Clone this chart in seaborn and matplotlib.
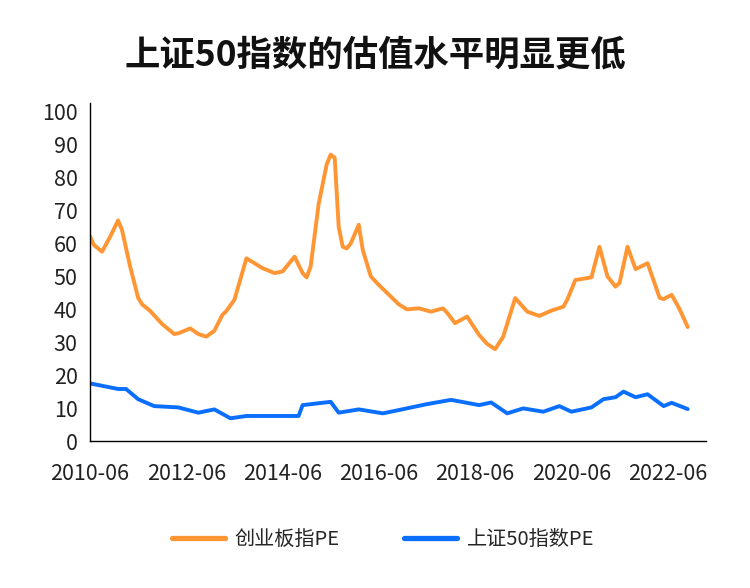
import pandas as pd
import seaborn as sns
import matplotlib.pyplot as plt

# values
cyb_dates = ['2010-06', '2010-07', '2010-09', '2010-11', '2011-01', '2011-02', '2011-04', '2011-06',
             '2011-07', '2011-09', '2011-12', '2012-03', '2012-04', '2012-07', '2012-09', '2012-11',
             '2013-01', '2013-03', '2013-04', '2013-06', '2013-09', '2013-11', '2014-01', '2014-04',
             '2014-06', '2014-09', '2014-11', '2014-12', '2015-01', '2015-03', '2015-05', '2015-06',
             '2015-07', '2015-08', '2015-09', '2015-10', '2015-11', '2016-01', '2016-02', '2016-04',
             '2016-06', '2016-11', '2017-01', '2017-04', '2017-07', '2017-10', '2017-11', '2018-01',
             '2018-04', '2018-07', '2018-09', '2018-11', '2019-01', '2019-04', '2019-07', '2019-10',
             '2020-01', '2020-04', '2020-05', '2020-07', '2020-11', '2021-01', '2021-03', '2021-05',
             '2021-06', '2021-08', '2021-10', '2022-01', '2022-04', '2022-05', '2022-07', '2022-09',
             '2022-11']
cyb_pe = [62.1, 59.5, 57.5, 62, 67, 64, 53, 43.5,
          41.5, 39.5, 35.5, 32.5, 32.7, 34.2, 32.5, 31.7,
          33.5, 38.3, 39.5, 42.9, 55.5, 54, 52.5, 51,
          51.5, 56, 51, 49.7, 53, 72, 84, 87,
          86, 65, 59, 58.5, 60, 65.7, 58, 50,
          47.4, 41.5, 40, 40.3, 39.3, 40.3, 39, 35.8,
          37.8, 32.2, 29.5, 27.9, 31.7, 43.4, 39.3, 38,
          39.6, 40.8, 43, 48.9, 49.7, 59, 50, 46.9,
          48, 59, 52.2, 54, 43.5, 43.1, 44.4, 40,
          34.6]

sz50_dates = ['2010-06', '2011-01', '2011-03', '2011-06', '2011-10', '2012-04', '2012-09', '2013-01',
              '2013-05', '2013-09', '2014-10', '2014-11', '2015-06', '2015-08', '2016-01', '2016-07',
              '2016-11', '2017-06', '2017-12', '2018-07', '2018-10', '2019-02', '2019-06', '2019-11',
              '2020-03', '2020-06', '2020-11', '2021-02', '2021-05', '2021-07', '2021-10', '2022-01',
              '2022-05', '2022-07', '2022-11']
sz50_pe = [17.5, 15.8, 15.8, 12.7, 10.6, 10.2, 8.6, 9.6,
           6.9, 7.6, 7.6, 10.9, 11.9, 8.6, 9.6, 8.4,
           9.4, 11.2, 12.5, 10.9, 11.7, 8.4, 9.9, 8.9,
           10.6, 8.9, 10.2, 12.7, 13.3, 15, 13.3, 14.2,
           10.6, 11.6, 9.7]

tick_labels = ['2010-06', '2012-06', '2014-06', '2016-06', '2018-06', '2020-06', '2022-06']
series_names = ['创业板指PE', '上证50指数PE']
colors = ['#FF9533', '#0A6EFF']


def month_idx(s):
    y, m = s.split('-')
    return (int(y) - 2010) * 12 + int(m) - 6


df = pd.concat([
    pd.DataFrame({'t': [month_idx(d) for d in cyb_dates], 'pe': cyb_pe, 'name': series_names[0]}),
    pd.DataFrame({'t': [month_idx(d) for d in sz50_dates], 'pe': sz50_pe, 'name': series_names[1]}),
])

sns.set_style('white')
plt.rcParams['font.family'] = ['Noto Sans CJK SC', 'DejaVu Sans']

fig = plt.figure(figsize=(7.5, 5.88), dpi=100)
ax = fig.add_axes([0.12, 0.25, 0.821, 0.575])

sns.lineplot(data=df, x='t', y='pe', hue='name', palette=colors, linewidth=2.8,
             ax=ax, legend=False, solid_joinstyle='round', solid_capstyle='round')

ax.set_xlim(0, 153.5)
ax.set_ylim(0, 102.7)
ax.set_xticks([month_idx(t) for t in tick_labels])
ax.set_xticklabels(tick_labels, fontsize=15.5, color='#222222')
ax.set_yticks(range(0, 101, 10))
ax.tick_params(axis='y', labelsize=15.5, labelcolor='#222222', length=0, pad=9)
ax.tick_params(axis='x', length=0, pad=16)
ax.set_xlabel('')
ax.set_ylabel('')
sns.despine(ax=ax)
for sp in ['left', 'bottom']:
    ax.spines[sp].set_color('black')
    ax.spines[sp].set_linewidth(1)

fig.suptitle('上证50指数的估值水平明显更低', fontsize=25.5, fontweight='bold', y=0.937, color='#111111')

handles = [plt.Line2D([0], [0], color=c, lw=3.8, solid_capstyle='round') for c in colors]
fig.legend(handles, series_names, loc='center', bbox_to_anchor=(0.511, 0.082), ncol=2,
           frameon=False, fontsize=14.5, handlelength=2.6, handletextpad=0.5, columnspacing=3.2)

fig.savefig('out.png', dpi=100, facecolor='white')
